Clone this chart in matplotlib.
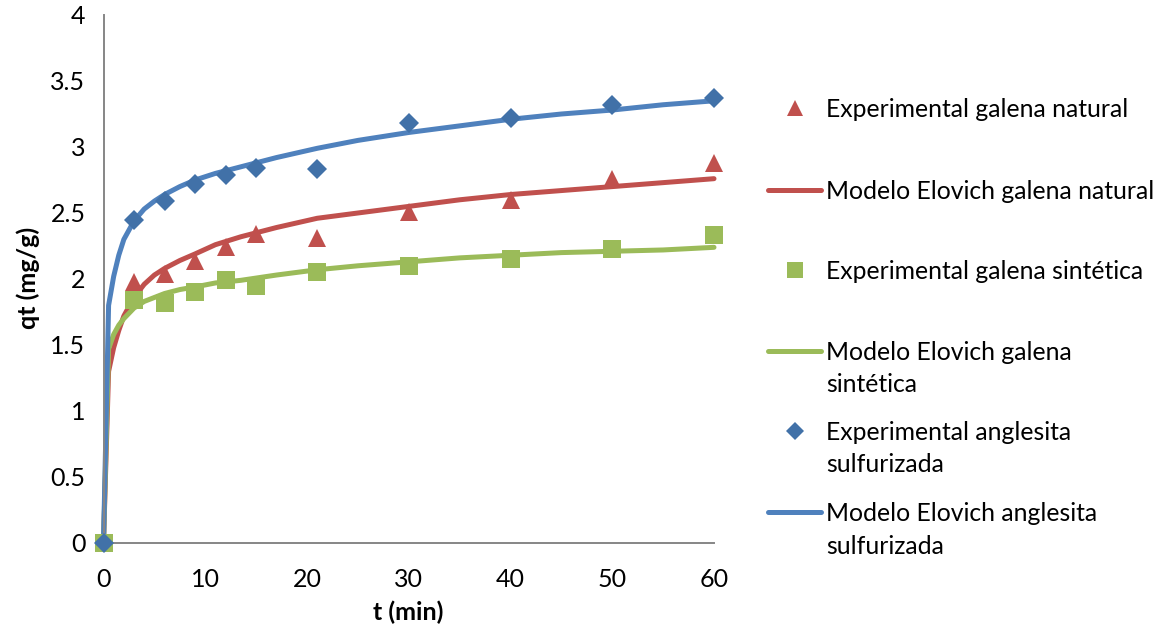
import numpy as np
import matplotlib.pyplot as plt

plt.rcParams['font.family'] = ['Lato', 'DejaVu Sans']

# Experimental data (t in min, qt in mg/g)
t_exp = [0, 3, 6, 9, 12, 15, 21, 30, 40, 50, 60]
q_nat = [0, 1.98, 2.04, 2.14, 2.24, 2.34, 2.31, 2.51, 2.60, 2.76, 2.88]
q_sin = [0, 1.84, 1.82, 1.90, 1.99, 1.95, 2.05, 2.10, 2.15, 2.23, 2.33]
q_ang = [0, 2.45, 2.59, 2.72, 2.79, 2.84, 2.83, 3.18, 3.22, 3.32, 3.37]

# Elovich model curves
t_mod = [0, 0.5, 1, 1.5, 2, 3, 4, 5, 6, 7.5, 9, 11, 13.5, 17, 21, 25, 30, 35, 40, 45, 50, 55, 60]
m_nat = [0, 1.30, 1.48, 1.61, 1.72, 1.86, 1.96, 2.03, 2.08, 2.14, 2.19, 2.26, 2.32, 2.39,
         2.46, 2.50, 2.55, 2.60, 2.64, 2.67, 2.70, 2.73, 2.76]
m_sin = [0, 1.47, 1.58, 1.65, 1.70, 1.78, 1.83, 1.86, 1.89, 1.92, 1.94, 1.97, 1.99, 2.03,
         2.07, 2.10, 2.13, 2.16, 2.18, 2.20, 2.21, 2.22, 2.24]
m_ang = [0, 1.80, 2.02, 2.18, 2.30, 2.44, 2.53, 2.59, 2.64, 2.70, 2.75, 2.80, 2.85, 2.92,
         2.99, 3.05, 3.11, 3.16, 3.21, 3.25, 3.28, 3.32, 3.35]

x_ticks = [0, 10, 20, 30, 40, 50, 60]
y_ticks = [0, 0.5, 1, 1.5, 2, 2.5, 3, 3.5, 4]
y_labels = ['0', '0.5', '1', '1.5', '2', '2.5', '3', '3.5', '4']

red = '#C0504D'
green = '#9BBB59'
blue_line = '#4F81BD'
blue_mark = '#4171A8'

W, H = 1161, 634
fig = plt.figure(figsize=(W / 100, H / 100), dpi=100)
ax = fig.add_axes([103.5 / W, 1 - 543 / H, (714 - 103.5) / W, (543 - 15) / H])

# series in legend order: (label, kind, x, y, color, marker, size)
series = [
    ('Experimental galena natural', 'mark', t_exp, q_nat, red, '^', 13),
    ('Modelo Elovich galena natural', 'line', t_mod, m_nat, red, None, 0),
    ('Experimental galena sintética', 'mark', t_exp, q_sin, green, 's', 13),
    ('Modelo Elovich galena\nsintética', 'line', t_mod, m_sin, green, None, 0),
    ('Experimental anglesita\nsulfurizada', 'mark', t_exp, q_ang, blue_mark, 'D', 10),
    ('Modelo Elovich anglesita\nsulfurizada', 'line', t_mod, m_ang, blue_line, None, 0),
]

for i, (lab, kind, xs, ys, col, mk, ms) in enumerate(series):
    if kind == 'line':
        ax.plot(xs, ys, color=col, lw=3.6, solid_capstyle='round',
                solid_joinstyle='round', zorder=2 + i * 0.01, clip_on=False)
    else:
        ax.plot(xs, ys, ls='none', marker=mk, ms=ms, color=col,
                markeredgewidth=0, zorder=3 + i * 0.01, clip_on=False)

ax.set_xlim(0, 60)
ax.set_ylim(0, 4)
ax.set_xticks(x_ticks)
ax.set_yticks(y_ticks)
ax.set_yticklabels(y_labels)
ax.tick_params(length=0, labelsize=18, colors='black')
ax.tick_params(axis='x', pad=18)
ax.tick_params(axis='y', pad=13)
for s in ['top', 'right']:
    ax.spines[s].set_visible(False)
for s in ['left', 'bottom']:
    ax.spines[s].set_color('#868686')
    ax.spines[s].set_linewidth(1.4)

fig.text(408 / W, 1 - 612 / H, 't (min)', fontsize=18, fontweight='bold',
         ha='center', va='center')
fig.text(28 / W, 1 - 278 / H, 'qt (mg/g)', fontsize=18, fontweight='bold',
         ha='center', va='center', rotation=90)

# legend drawn on the figure, one slot per series
leg_y = [108, 190, 270, 351, 431, 512]
for (lab, kind, xs, ys, col, mk, ms), yy in zip(series, leg_y):
    yf = 1 - yy / H
    if kind == 'line':
        fig.add_artist(plt.Line2D([768 / W, 821 / W], [yf, yf], color=col,
                                  lw=3.6, solid_capstyle='round'))
    else:
        fig.add_artist(plt.Line2D([795 / W], [yf], ls='none', marker=mk,
                                  ms=ms * 0.9, color=col, markeredgewidth=0))
    fig.text(826 / W, 1 - (yy - 10) / H, lab, fontsize=17.8, ha='left',
             va='top', linespacing=1.5)

fig.savefig('out.png', dpi=100)
